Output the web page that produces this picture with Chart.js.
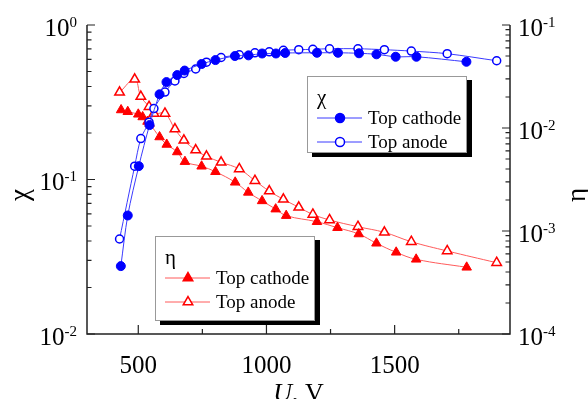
<!DOCTYPE html>
<html><head><meta charset="utf-8">
<script src="https://cdn.jsdelivr.net/npm/chart.js@4.4.1/dist/chart.umd.min.js"></script>
<style>html,body{margin:0;padding:0;background:#fff;}#wrap{width:588px;height:399px;position:relative;}</style>
</head><body><div id="wrap"><canvas id="c" width="588" height="399"></canvas></div>
<script>
// ---- data (U in V) ----
const cathodeChiU = [432,459,502,544,583,610,652,681,747,801,877,930,983,1037,1073,1197,1279,1361,1429,1504,1585,1780];
const cathodeChi  = [0.0275,0.0585,0.122,0.225,0.356,0.427,0.474,0.507,0.559,0.593,0.630,0.636,0.654,0.654,0.659,0.661,0.661,0.656,0.646,0.623,0.623,0.578];
const anodeU      = [427,486,510,542,561,604,643,678,724,766,823,894,955,1011,1066,1126,1181,1246,1357,1460,1565,1705,1898];
const anodeChi    = [0.0412,0.122,0.184,0.235,0.288,0.368,0.434,0.486,0.519,0.575,0.616,0.641,0.661,0.671,0.686,0.692,0.696,0.702,0.702,0.692,0.678,0.652,0.587];
const cathodeEtaU = [433,459,500,517,536,544,583,611,652,682,747,801,878,929,983,1036,1077,1197,1277,1360,1429,1506,1584,1781];
const cathodeEta  = [0.01496,0.01439,0.01358,0.0128,0.01156,0.01106,0.00818,0.00692,0.00585,0.00471,0.00425,0.00376,0.00297,0.00237,0.00196,0.00163,0.00141,0.00123,0.001076,0.000935,0.00076,0.000621,0.000531,0.000444];
const anodeEta    = [0.0222,0.0297,0.0202,0.0161,0.01383,0.01383,0.00977,0.0076,0.00611,0.00531,0.00465,0.0040,0.00308,0.00244,0.00203,0.0017,0.00145,0.00128,0.0011,0.00097,0.000787,0.00064,0.000492];
const xMajorTicks = [500,1000,1500];
const xMinorTicks = [750,1250,1750];
const leftDecades = [-2,-1,0];
const rightDecades = [-4,-3,-2,-1];
const xTitle = ['U', ', V'];
const leftTitle = 'χ';
const rightTitle = 'η';
const legendChi = {title:'χ', items:['Top cathode','Top anode']};
const legendEta = {title:'η', items:['Top cathode','Top anode']};

const FONT = '"Liberation Serif", "Times New Roman", serif';
const BLUE = '#0000ff', BLUE_L = '#3a3aff', RED = '#ff0000', RED_L = '#ff5a5a';

function pts(xs, ys){ return xs.map((x,i)=>({x:x, y:ys[i]})); }

function drawMarker(ctx, style, filled, color, x, y, r){
  ctx.save();
  ctx.beginPath();
  if (style==='circle'){ ctx.arc(x,y,r,0,Math.PI*2); }
  else {
    let a = 0;
    ctx.moveTo(x+Math.sin(a)*r, y-Math.cos(a)*r); a += 2*Math.PI/3;
    ctx.lineTo(x+Math.sin(a)*r, y-Math.cos(a)*r); a += 2*Math.PI/3;
    ctx.lineTo(x+Math.sin(a)*r, y-Math.cos(a)*r);
    ctx.closePath();
  }
  ctx.fillStyle = filled ? color : '#fff';
  ctx.fill();
  ctx.lineWidth = 1.5; ctx.strokeStyle = color; ctx.stroke();
  ctx.restore();
}

function drawPow(ctx, exp, x, y, alignRight){
  const base='10', sup=String(exp);
  ctx.font = '25px '+FONT; const wb = ctx.measureText(base).width;
  ctx.font = '15px '+FONT; const ws = ctx.measureText(sup).width;
  const x0 = alignRight ? x - wb - ws : x;
  ctx.textAlign='left'; ctx.textBaseline='alphabetic';
  ctx.font = '25px '+FONT; ctx.fillText(base, x0, y);
  ctx.font = '15px '+FONT; ctx.fillText(sup, x0+wb, y-9);
}

function drawLegend(ctx, box, leg, style, color, lineColor){
  const [x0,y0,x1,y1] = box;
  ctx.fillStyle='#000'; ctx.fillRect(x0+5, y0+4, x1-x0, y1-y0);
  ctx.fillStyle='#fff'; ctx.fillRect(x0, y0, x1-x0, y1-y0);
  ctx.strokeStyle='#999'; ctx.lineWidth=1; ctx.strokeRect(x0+0.5, y0+0.5, x1-x0-1, y1-y0-1);
  ctx.fillStyle='#000'; ctx.textAlign='left'; ctx.textBaseline='middle';
  ctx.font = '21px '+FONT; ctx.fillText(leg.title, x0+10, y0+22);
  const rows = [y0+42, y0+66];
  leg.items.forEach((t,i)=>{
    const ry = rows[i];
    ctx.strokeStyle=lineColor; ctx.lineWidth=1;
    ctx.beginPath(); ctx.moveTo(x0+10, ry); ctx.lineTo(x0+55, ry); ctx.stroke();
    drawMarker(ctx, style, i===0, color, x0+33, ry, style==='circle'?4.5:5.5);
    ctx.fillStyle='#000'; ctx.font='19px '+FONT; ctx.textBaseline='middle';
    ctx.fillText(t, x0+61, ry+1);
  });
}

const decor = {
  id:'decor',
  afterDraw(chart){
    const ctx = chart.ctx, a = chart.chartArea;
    const sx = chart.scales.x, sy = chart.scales.y, sy2 = chart.scales.y2;
    ctx.save();
    ctx.strokeStyle='#222'; ctx.lineWidth=1.5;
    ctx.beginPath();
    ctx.moveTo(a.left, a.top); ctx.lineTo(a.left, a.bottom); ctx.lineTo(a.right, a.bottom); ctx.lineTo(a.right, a.top);
    ctx.stroke();
    ctx.lineWidth=1.2;
    ctx.beginPath();
    xMajorTicks.forEach(v=>{ const p=sx.getPixelForValue(v); ctx.moveTo(p,a.bottom); ctx.lineTo(p,a.bottom-9); });
    xMinorTicks.forEach(v=>{ const p=sx.getPixelForValue(v); ctx.moveTo(p,a.bottom); ctx.lineTo(p,a.bottom-5); });
    leftDecades.forEach(d=>{
      const p=sy.getPixelForValue(Math.pow(10,d)); ctx.moveTo(a.left,p); ctx.lineTo(a.left+8,p);
      if (d<0) for(let k=2;k<10;k++){ const q=sy.getPixelForValue(k*Math.pow(10,d)); ctx.moveTo(a.left,q); ctx.lineTo(a.left+4.5,q); }
    });
    rightDecades.forEach(d=>{
      const p=sy2.getPixelForValue(Math.pow(10,d)); ctx.moveTo(a.right,p); ctx.lineTo(a.right-8,p);
      if (d<-1) for(let k=2;k<10;k++){ const q=sy2.getPixelForValue(k*Math.pow(10,d)); ctx.moveTo(a.right,q); ctx.lineTo(a.right-4.5,q); }
    });
    ctx.stroke();
    // labels
    ctx.fillStyle='#000';
    ctx.font='25px '+FONT; ctx.textAlign='center'; ctx.textBaseline='alphabetic';
    xMajorTicks.forEach(v=>{ ctx.fillText(String(v), sx.getPixelForValue(v), 373); });
    leftDecades.forEach(d=>{ drawPow(ctx, d, a.left-10, sy.getPixelForValue(Math.pow(10,d))+10.5, true); });
    rightDecades.forEach(d=>{ drawPow(ctx, d, a.right+8, sy2.getPixelForValue(Math.pow(10,d))+10.5, false); });
    // axis titles
    ctx.font='27px '+FONT; ctx.textAlign='center'; ctx.textBaseline='middle';
    ctx.save(); ctx.translate(21,195); ctx.rotate(-Math.PI/2); ctx.fillText(leftTitle,0,0); ctx.restore();
    ctx.save(); ctx.translate(578,195); ctx.rotate(-Math.PI/2); ctx.fillText(rightTitle,0,0); ctx.restore();
    ctx.textBaseline='alphabetic'; ctx.textAlign='left';
    ctx.font='italic 26px '+FONT; const w1=ctx.measureText(xTitle[0]).width;
    ctx.font='26px '+FONT; const w2=ctx.measureText(xTitle[1]).width;
    const cx=(a.left+a.right)/2, tx=cx-(w1+w2)/2;
    ctx.font='italic 26px '+FONT; ctx.fillText(xTitle[0], tx, 401);
    ctx.font='26px '+FONT; ctx.fillText(xTitle[1], tx+w1, 401);
    // legends
    drawLegend(ctx, [307,76,467,153], legendChi, 'circle', BLUE, BLUE_L);
    drawLegend(ctx, [155,236,315,321], legendEta, 'triangle', RED, RED_L);
    ctx.restore();
  }
};

new Chart(document.getElementById('c'), {
  type:'line',
  data:{ datasets:[
    {label:'χ Top cathode', data:pts(cathodeChiU,cathodeChi), yAxisID:'y', borderColor:BLUE_L, borderWidth:1, tension:0.3,
      pointStyle:'circle', pointRadius:4.5, pointBackgroundColor:BLUE, pointBorderColor:BLUE, pointBorderWidth:1},
    {label:'χ Top anode', data:pts(anodeU,anodeChi), yAxisID:'y', borderColor:BLUE_L, borderWidth:1, tension:0.3,
      pointStyle:'circle', pointRadius:4, pointBackgroundColor:'#fff', pointBorderColor:BLUE, pointBorderWidth:1.5},
    {label:'η Top cathode', data:pts(cathodeEtaU,cathodeEta), yAxisID:'y2', borderColor:RED_L, borderWidth:1, tension:0.4,
      pointStyle:'triangle', pointRadius:5.5, pointBackgroundColor:RED, pointBorderColor:RED, pointBorderWidth:1},
    {label:'η Top anode', data:pts(anodeU,anodeEta), yAxisID:'y2', borderColor:RED_L, borderWidth:1, tension:0.4,
      pointStyle:'triangle', pointRadius:5.5, pointBackgroundColor:'#fff', pointBorderColor:RED, pointBorderWidth:1.5}
  ]},
  options:{
    responsive:false, animation:false, parsing:true,
    layout:{padding:{left:87, right:78, top:25, bottom:65}},
    plugins:{legend:{display:false}, tooltip:{enabled:false}},
    elements:{line:{fill:false}},
    scales:{
      x:{type:'linear', min:300, max:1950, display:false},
      y:{type:'logarithmic', min:0.01, max:1, display:false},
      y2:{type:'logarithmic', min:0.0001, max:0.1, display:false, position:'right'}
    }
  },
  plugins:[decor]
});
</script></body></html>
